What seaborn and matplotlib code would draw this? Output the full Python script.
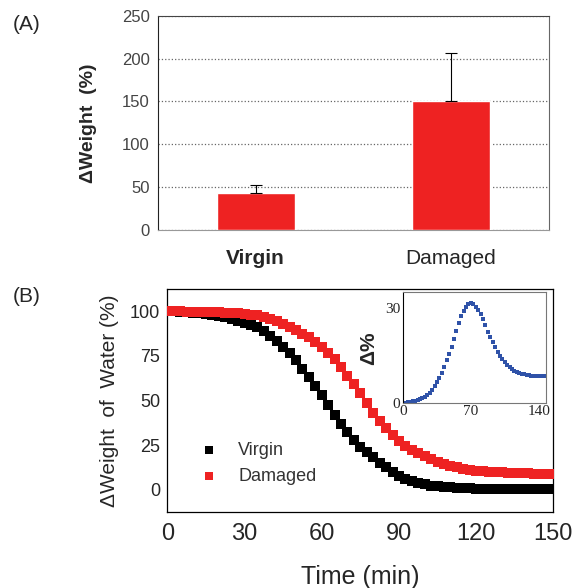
import numpy as np
import pandas as pd
import matplotlib
matplotlib.use('Agg')
import matplotlib.pyplot as plt
import seaborn as sns

sns.set_style('white')
plt.rcParams['font.family'] = ['Liberation Sans', 'DejaVu Sans']

# (A) weight gain per sample
samples = ['Virgin', 'Damaged']
gain = [43, 150]
gain_err = [10, 57]

# (B) water loss over time (sampled every 2.5 min)
time_min = [0, 2.5, 5, 7.5, 10, 12.5, 15, 17.5, 20, 22.5, 25, 27.5, 30, 32.5, 35, 37.5,
            40, 42.5, 45, 47.5, 50, 52.5, 55, 57.5, 60, 62.5, 65, 67.5, 70, 72.5, 75, 77.5,
            80, 82.5, 85, 87.5, 90, 92.5, 95, 97.5, 100, 102.5, 105, 107.5, 110, 112.5,
            115, 117.5, 120, 122.5, 125, 127.5, 130, 132.5, 135, 137.5, 140, 142.5, 145,
            147.5, 150]
virgin = [100, 100, 99.8, 99.6, 99.3, 99.0, 98.5, 98.0, 97.3, 96.6, 95.7, 94.7, 93.6, 92.3,
          91.0, 89.2, 86.3, 83.5, 80.0, 76.5, 72.5, 68.0, 63.0, 58.0, 53.0, 47.5, 42.0, 37.0,
          32.3, 28.2, 24.3, 21.3, 18.3, 15.3, 12.6, 10.0, 7.9, 6.3, 5.0, 4.0, 3.1, 2.5, 2.0,
          1.7, 1.4, 1.2, 1.0, 0.9, 0.8, 0.8, 0.7, 0.7, 0.6, 0.6, 0.6, 0.5, 0.5, 0.5, 0.5,
          0.5, 0.5]
damaged = [100, 100, 100, 99.9, 99.8, 99.7, 99.6, 99.5, 99.4, 99.2, 99.0, 98.8, 98.5, 98.2,
           97.8, 96.8, 95.6, 94.5, 92.8, 91.3, 89.5, 87.5, 85.4, 82.8, 80.0, 76.8, 73.5, 69.0,
           64.0, 59.5, 54.2, 48.8, 43.2, 38.6, 34.5, 30.8, 27.7, 24.8, 22.5, 20.6, 18.8, 17.2,
           15.8, 14.5, 13.5, 12.6, 11.9, 11.3, 10.9, 10.5, 10.2, 10.0, 9.8, 9.6, 9.5, 9.4,
           9.3, 9.2, 9.2, 9.1, 9.1]

# inset: difference between the two curves
inset_time = time_min[:-2]
inset_diff = [0.0, 0.2, 0.3, 0.4, 0.6, 0.8, 1.0, 1.3, 1.7, 2.1, 2.6, 3.4, 4.3, 5.5, 6.7, 8.0,
              9.5, 11.6, 13.6, 15.6, 17.9, 20.3, 22.9, 25.3, 27.4, 29.2, 30.5, 31.3, 31.7,
              31.2, 30.4, 29.4, 28.2, 26.6, 24.8, 22.5, 20.8, 19.2, 17.6, 16.2, 15.0, 13.9,
              12.9, 12.1, 11.4, 10.8, 10.3, 9.9, 9.6, 9.3, 9.1, 8.9, 8.8, 8.7, 8.6, 8.5,
              8.5, 8.5, 8.5]

red = '#EE2222'
blue = '#2F52A8'

fig = plt.figure(figsize=(5.85, 5.88), dpi=100)

# ---- panel A ----
axA = fig.add_axes([0.270, 0.609, 0.668, 0.364])
sns.barplot(x=samples, y=gain, color=red, width=0.4, errorbar=None,
            saturation=1, ax=axA, zorder=3)
axA.errorbar([0, 1], gain, yerr=[[0, 0], gain_err], fmt='none', ecolor='black',
             elinewidth=0.8, capsize=4, capthick=0.8, zorder=4)
axA.set_xlim(-0.5, 1.5)
axA.set_ylim(0, 250)
axA.set_yticks([0, 50, 100, 150, 200, 250])
axA.yaxis.grid(True, linestyle=':', color='#666666', linewidth=0.9, zorder=0)
axA.set_axisbelow(True)
axA.tick_params(axis='y', length=0, labelsize=12, labelcolor='#444444', pad=6)
axA.tick_params(axis='x', length=0, labelsize=15, pad=14)
axA.set_xticks([0.5], minor=True)
axA.tick_params(axis='x', which='minor', direction='in', length=4, color='#888888')
for lab in axA.get_xticklabels():
    if lab.get_text() == 'Virgin':
        lab.set_fontweight('bold')
axA.set_ylabel('\u0394Weight  (%)', fontsize=14, fontweight='bold', labelpad=18)
axA.spines['left'].set_color('#222222')
axA.spines['bottom'].set_color('#999999')
axA.spines['top'].set_color('#444444')
axA.spines['right'].set_color('#666666')
fig.text(0.022, 0.975, '(A)', fontsize=15, va='top')

# ---- panel B ----
axB = fig.add_axes([0.286, 0.1287, 0.660, 0.3798])
sns.scatterplot(x=time_min, y=virgin, color='black', marker='s', s=46, linewidth=0,
                label='Virgin', ax=axB, zorder=3)
sns.scatterplot(x=time_min, y=damaged, color=red, marker='s', s=46, linewidth=0,
                label='Damaged', ax=axB, zorder=4)
axB.set_xlim(0, 150)
axB.set_ylim(-12.5, 112.5)
axB.set_xticks([0, 30, 60, 90, 120, 150])
axB.set_yticks([0, 25, 50, 75, 100])
axB.tick_params(direction='in', length=4, width=0.8)
axB.tick_params(axis='x', labelsize=17, pad=8)
axB.tick_params(axis='y', labelsize=13, pad=5)
for s in axB.spines.values():
    s.set_color('black')
    s.set_linewidth(0.9)
axB.set_ylabel('\u0394Weight  of  Water (%)', fontsize=15, labelpad=8)
axB.set_xlabel('Time (min)', fontsize=18, labelpad=14)
leg = axB.legend(loc='lower left', bbox_to_anchor=(0.02, 0.05), frameon=False,
                 fontsize=13, handletextpad=0.6, labelspacing=0.5, markerscale=0.9)
for t in leg.get_texts():
    t.set_color('#333333')
fig.text(0.022, 0.512, '(B)', fontsize=15, va='top')

# ---- inset ----
axI = fig.add_axes([0.689, 0.3141, 0.2451, 0.1888])
sns.scatterplot(x=inset_time, y=inset_diff, color=blue, marker='s', s=9, linewidth=0,
                ax=axI)
axI.set_xlim(0, 148)
axI.set_ylim(0, 35)
axI.set_xticks([0, 70, 140])
axI.set_yticks([0, 30])
axI.tick_params(direction='in', length=3, width=0.6, labelsize=11)
axI.tick_params(axis='x', pad=1)
axI.tick_params(axis='y', pad=2)
for lab in axI.get_xticklabels() + axI.get_yticklabels():
    lab.set_fontfamily('Liberation Serif')
axI.spines['left'].set_color('black')
for k in ['top', 'right', 'bottom']:
    axI.spines[k].set_color('#777777')
axI.set_ylabel('\u0394%', fontsize=15, fontweight='bold', labelpad=5)

fig.savefig('out.png', dpi=100)
